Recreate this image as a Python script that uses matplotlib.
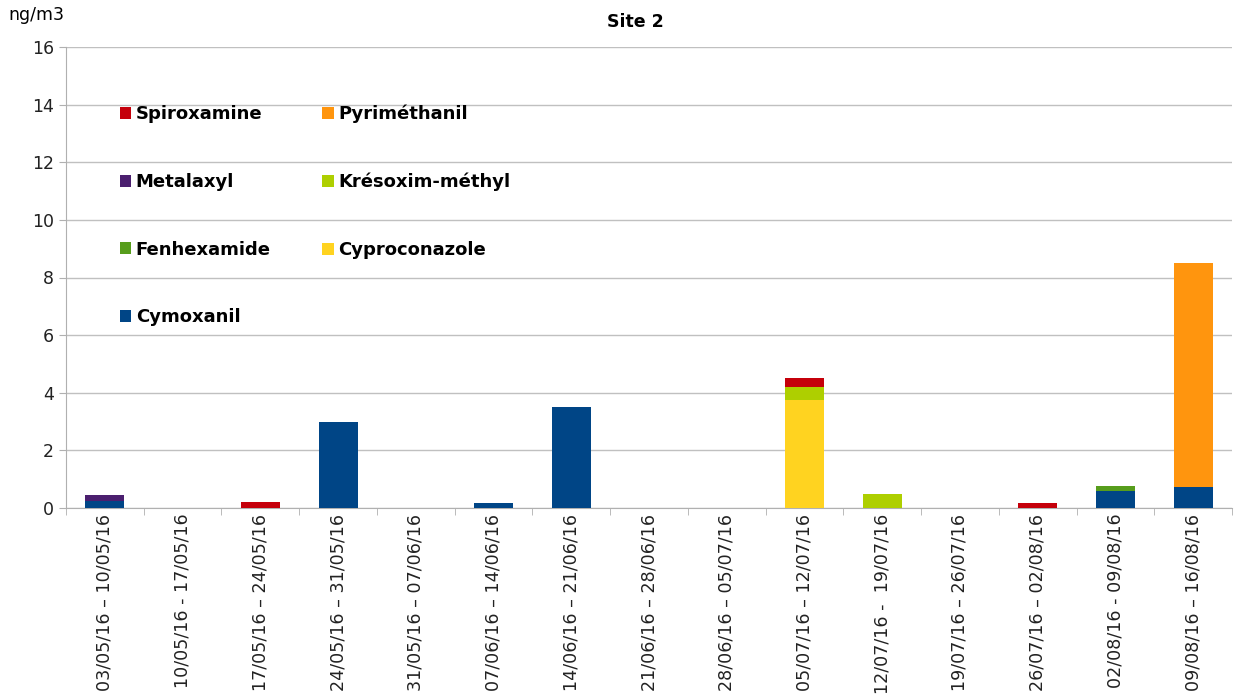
import matplotlib.pyplot as plt
import numpy as np

# Périodes d'échantillonnage
periodes = ["03/05/16 – 10/05/16", "10/05/16 - 17/05/16", "17/05/16 – 24/05/16",
            "24/05/16 – 31/05/16", "31/05/16 – 07/06/16", "07/06/16 – 14/06/16",
            "14/06/16 – 21/06/16", "21/06/16 – 28/06/16", "28/06/16 – 05/07/16",
            "05/07/16 – 12/07/16", "12/07/16 -  19/07/16", "19/07/16 – 26/07/16",
            "26/07/16 – 02/08/16", "02/08/16 - 09/08/16", "09/08/16 – 16/08/16"]

# Concentrations (ng/m3) par substance
cymoxanil      = [0.25, 0, 0, 3.0, 0, 0.17, 3.5, 0, 0, 0, 0, 0, 0, 0.59, 0.73]
cyproconazole  = [0, 0, 0, 0, 0, 0, 0, 0, 0, 3.75, 0, 0, 0, 0, 0]
fenhexamide    = [0, 0, 0, 0, 0, 0, 0, 0, 0, 0, 0, 0, 0, 0.17, 0]
kresoxim       = [0, 0, 0, 0, 0, 0, 0, 0, 0, 0.45, 0.48, 0, 0, 0, 0]
metalaxyl      = [0.2, 0, 0, 0, 0, 0, 0, 0, 0, 0, 0, 0, 0, 0, 0]
pyrimethanil   = [0, 0, 0, 0, 0, 0, 0, 0, 0, 0, 0, 0, 0, 0, 7.78]
spiroxamine    = [0, 0, 0.2, 0, 0, 0, 0, 0, 0, 0.3, 0, 0, 0.17, 0, 0]

series = [
    ("Cymoxanil", cymoxanil, "#004586"),
    ("Cyproconazole", cyproconazole, "#ffd320"),
    ("Fenhexamide", fenhexamide, "#579d1c"),
    ("Krésoxim-méthyl", kresoxim, "#aecf00"),
    ("Metalaxyl", metalaxyl, "#4b1f6f"),
    ("Pyriméthanil", pyrimethanil, "#ff950e"),
    ("Spiroxamine", spiroxamine, "#c5000b"),
]

fig = plt.figure(figsize=(12.34, 6.99), dpi=100)
ax = fig.add_axes([66 / 1234, 1 - 508 / 699, 1166 / 1234, 461 / 699])

x = np.arange(len(periodes))
bas = np.zeros(len(periodes))
barres = {}
for nom, vals, coul in series:
    vals = np.array(vals, dtype=float)
    barres[nom] = ax.bar(x, vals, 0.5, bottom=bas, color=coul, label=nom, zorder=3)
    bas += vals

ax.set_xlim(-0.5, len(periodes) - 0.5)
ax.set_ylim(0, 16)
ax.set_yticks(range(0, 17, 2))
ax.grid(axis="y", color="#c0c0c0", linewidth=1, zorder=0)

ax.set_xticks(x)
ax.set_xticklabels(periodes, rotation=90, va="top", ha="center", fontsize=12.6, color="#222222")
ax.set_xticks(np.arange(-0.5, len(periodes)), minor=True)
ax.tick_params(axis="x", which="major", length=0, pad=4)
ax.tick_params(axis="x", which="minor", length=5, color="#b0b0b0")
ax.tick_params(axis="y", length=5, color="#b0b0b0", labelsize=12.5, labelcolor="#222222")

for s in ["top", "right"]:
    ax.spines[s].set_visible(False)
for s in ["left", "bottom"]:
    ax.spines[s].set_color("#b0b0b0")

ordre = ["Spiroxamine", "Metalaxyl", "Fenhexamide", "Cymoxanil",
         "Pyriméthanil", "Krésoxim-méthyl", "Cyproconazole"]
leg = ax.legend([barres[n] for n in ordre], ordre, ncol=2, loc="upper left",
                bbox_to_anchor=(0.032, 0.91), frameon=False,
                prop={"weight": "bold", "size": 13},
                handlelength=0.65, handleheight=0.65, handletextpad=0.25,
                labelspacing=2.75, columnspacing=2.85)

fig.text(635 / 1234, 1 - 22 / 699, "Site 2", ha="center", va="center",
         fontsize=12.5, fontweight="bold")
fig.text(8 / 1234, 1 - 15 / 699, "ng/m3", ha="left", va="center", fontsize=12.5)

fig.savefig("out.png", dpi=100)
